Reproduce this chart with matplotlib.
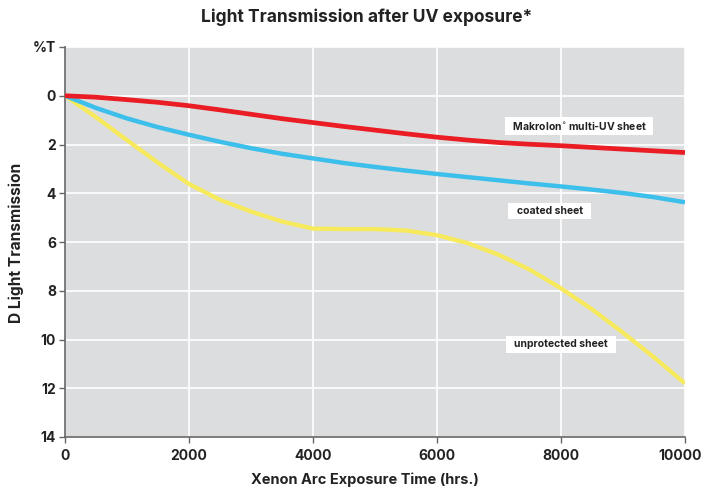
import matplotlib
matplotlib.use("Agg")
import matplotlib.pyplot as plt
import matplotlib.transforms as mtransforms

plt.rcParams['font.family'] = ['Inter', 'DejaVu Sans']

hours = [0, 500, 1000, 1500, 2000, 2500, 3000, 3500, 4000, 4500, 5000, 5500,
         6000, 6500, 7000, 7500, 8000, 8500, 9000, 9500, 10000]
makrolon = [0, 0.06, 0.16, 0.27, 0.41, 0.58, 0.76, 0.94, 1.1, 1.26, 1.41, 1.56,
            1.7, 1.82, 1.92, 1.99, 2.05, 2.12, 2.19, 2.26, 2.33]
coated = [0, 0.5, 0.93, 1.29, 1.6, 1.89, 2.15, 2.38, 2.57, 2.76, 2.92, 3.07,
          3.21, 3.34, 3.47, 3.6, 3.72, 3.85, 3.99, 4.16, 4.37]
unprotected = [0, 0.88, 1.82, 2.75, 3.62, 4.27, 4.75, 5.16, 5.45, 5.47, 5.47, 5.53,
               5.72, 6.05, 6.53, 7.14, 7.9, 8.76, 9.72, 10.73, 11.8]

series_labels = ["  Makrolon$^{\\circ}$ multi-UV sheet  ", "  coated sheet  ", "  unprotected sheet  "]
label_pos_x = [8290, 7820, 8000]
label_pos_y = [1.24, 4.73, 10.2]

yticks = [-2, 0, 2, 4, 6, 8, 10, 12, 14]
yticklabels = ["%T", "0", "2", "4", "6", "8", "10", "12", "14"]
xticks = [0, 2000, 4000, 6000, 8000, 10000]

fig = plt.figure(figsize=(7.04, 4.93), dpi=100)
ax = fig.add_axes([65/704, 56/493, 620/704, 390/493])
ax.set_facecolor('#dcdddf')

ax.plot(hours, unprotected, color='#f7ea5c', lw=3.1, solid_capstyle='butt', zorder=3)
ax.plot(hours, coated, color='#3dbfeb', lw=3.2, solid_capstyle='butt', zorder=4)
ax.plot(hours, makrolon, color='#ea1c24', lw=3.4, solid_capstyle='butt', zorder=5)

ax.set_xlim(0, 10000)
ax.set_ylim(14, -2)
ax.set_xticks(xticks)
ax.set_xticklabels([str(x) for x in xticks], fontsize=10, fontweight='bold', color='#222222')
ax.set_yticks(yticks)
ax.set_yticklabels(yticklabels, fontsize=10, fontweight='bold', color='#222222')
ax.grid(True, color='white', lw=1.2)
ax.set_axisbelow(True)
for s in ['top', 'right']:
    ax.spines[s].set_visible(False)
for s in ['left', 'bottom']:
    ax.spines[s].set_color('#666666')
    ax.spines[s].set_linewidth(1.2)
ax.tick_params(axis='both', length=4, width=1, color='#666666')
ax.tick_params(axis='y', pad=2.5)
ax.tick_params(axis='x', pad=5)

# shift last x tick label slightly left so it stays inside the figure
last = ax.get_xticklabels()[-1]
last.set_transform(last.get_transform() + mtransforms.ScaledTranslation(-5/100, 0, fig.dpi_scale_trans))

for txt, x, y in zip(series_labels, label_pos_x, label_pos_y):
    ax.text(x, y, txt, fontsize=7.5, fontweight='bold', color='#222222', ha='center', va='center',
            bbox=dict(boxstyle='square,pad=0.32', fc='white', ec='none'), zorder=6)

fig.text(367/704, 1 - 17/493, "Light Transmission after UV exposure*", ha='center', va='center',
         fontsize=12.5, fontweight='bold', color='#222222')
fig.text(365/704, 1 - 480/493, "Xenon Arc Exposure Time (hrs.)", ha='center', va='center',
         fontsize=10.5, fontweight='bold', color='#222222')
fig.text(16/704, 1 - 243/493, "D Light Transmission", ha='center', va='center', rotation=90,
         fontsize=11.2, fontweight='bold', color='#222222')

fig.savefig("out.png", dpi=100)
